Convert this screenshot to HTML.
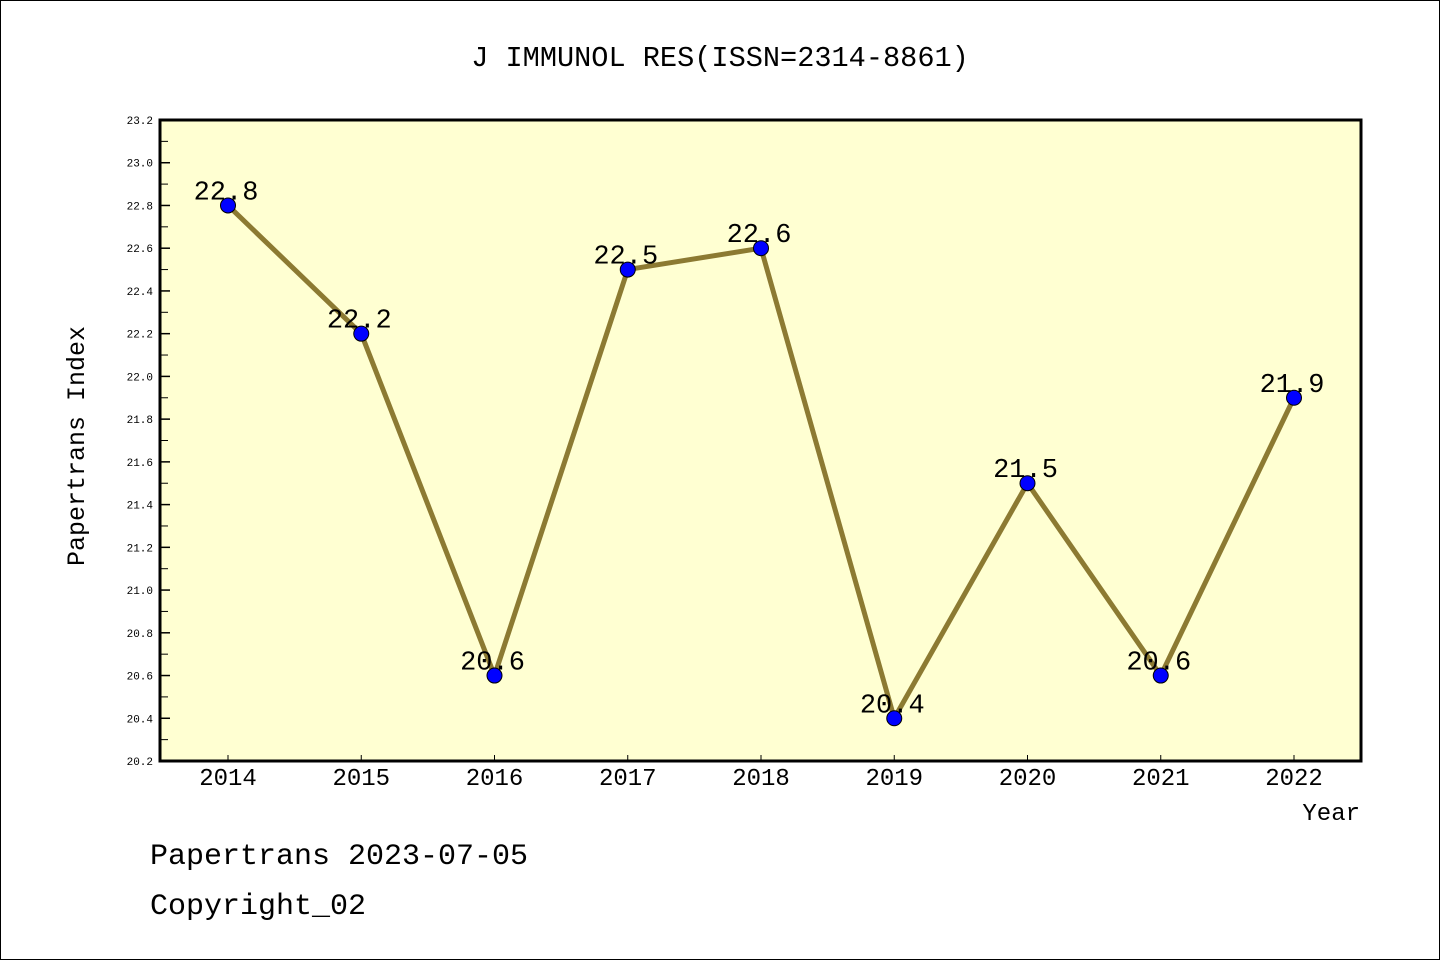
<!DOCTYPE html>
<html><head><meta charset="utf-8"><style>
html,body{margin:0;padding:0;background:#fff}
svg{display:block}
text{font-family:"Liberation Mono","DejaVu Sans Mono",monospace}
</style></head><body>
<svg id="c" width="1440" height="960" xmlns="http://www.w3.org/2000/svg">
<rect x="0.5" y="0.5" width="1439" height="959" fill="#fff" stroke="#000"/>
<text x="720" y="66" font-size="28.6" text-anchor="middle">J IMMUNOL RES(ISSN=2314-8861)</text>
<rect x="160" y="120" width="1201" height="641" fill="#ffffd2"/>
<g id="ticks"></g>
<g id="series"></g>
<rect x="160" y="120" width="1201" height="641" fill="none" stroke="#000" stroke-width="3"/>
<text x="84" y="446" font-size="25" text-anchor="middle" transform="rotate(-90 84 446)">Papertrans Index</text>
<text x="1360" y="820" font-size="24" text-anchor="end">Year</text>
<text x="150" y="864" font-size="30">Papertrans 2023-07-05</text>
<text x="150" y="914" font-size="30">Copyright_02</text>
</svg>
<script>
const years = [2014,2015,2016,2017,2018,2019,2020,2021,2022];
const values = [22.8,22.2,20.6,22.5,22.6,20.4,21.5,20.6,21.9];
const yTicks = [20.2,20.4,20.6,20.8,21.0,21.2,21.4,21.6,21.8,22.0,22.2,22.4,22.6,22.8,23.0,23.2];
const NS="http://www.w3.org/2000/svg";
function xs(i){return 228+i*133.25;}
function ys(v){return 761-(v-20.2)/3*641;}
function mk(tag,attrs,parent){const e=document.createElementNS(NS,tag);for(const k in attrs)e.setAttribute(k,attrs[k]);parent.appendChild(e);return e;}
const tg=document.getElementById('ticks'), sg=document.getElementById('series');
yTicks.forEach((t,i)=>{
  const y=ys(t);
  const l=mk('line',{x1:160,x2:170,y1:y,y2:y,stroke:'#000','stroke-width':1.5},tg);
  
  
  const tx=mk('text',{x:153,y:y+4,'font-size':11,'text-anchor':'end','font-family':'Liberation Sans, sans-serif'},tg);
  tx.textContent=t.toFixed(1);
  
  
  if(i<yTicks.length-1){
    const ym=ys(t+0.1);
    const m=mk('line',{x1:160,x2:168,y1:ym,y2:ym,stroke:'#000','stroke-width':1},tg);
    
    
  }
});
years.forEach((yr,i)=>{
  const x=xs(i);
  const l=mk('line',{x1:x,x2:x,y1:755,y2:761,stroke:'#000','stroke-width':1},tg);
  
  
  const tx=mk('text',{x:x,y:785,'font-size':24,'text-anchor':'middle'},tg);
  tx.textContent=yr;
  
  
});
const pl=mk('polyline',{points:values.map((v,i)=>xs(i)+','+ys(v)).join(' '),fill:'none',stroke:'#8c7a32','stroke-width':5,'stroke-linejoin':'round'},sg);


values.forEach((v,i)=>{
  const c=mk('circle',{cx:xs(i),cy:ys(v),r:7.5,fill:'#0000ff',stroke:'#000','stroke-width':1},sg);
  
  
  const t=mk('text',{x:xs(i)-2,y:ys(v)-6,'font-size':27,'text-anchor':'middle'},sg);
  t.textContent=v.toFixed(1);
  
  
});
</script>
</body></html>
